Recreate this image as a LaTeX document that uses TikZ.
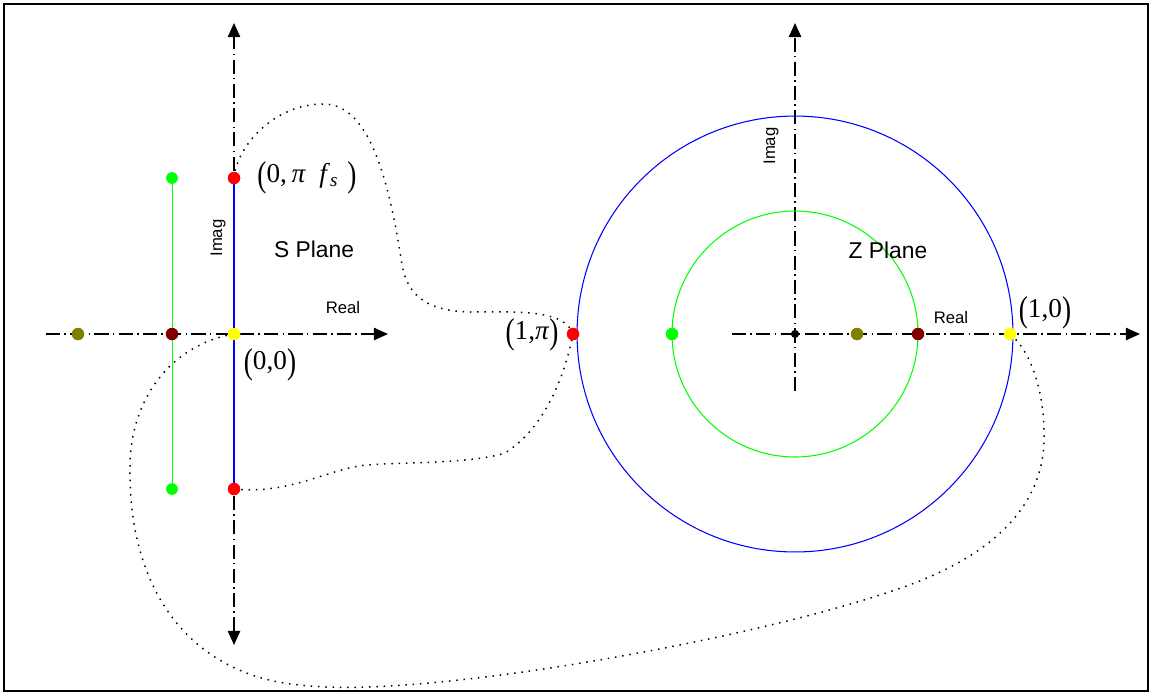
\documentclass[tikz,border=0pt]{standalone}
\usepackage{fontspec}
\setmainfont{Liberation Serif}
\newfontfamily\arialf{Liberation Sans}
\usepackage{graphicx}
\usetikzlibrary{arrows.meta}
\newcommand\tallp[1]{\raisebox{-0.14em}{\scalebox{1}[1.32]{#1}}}
\definecolor{olivec}{RGB}{128,128,0}
\definecolor{maroonc}{RGB}{128,0,0}
\definecolor{greenc}{RGB}{0,255,0}
\definecolor{yellowc}{RGB}{255,255,0}
\definecolor{redc}{RGB}{255,0,0}
\definecolor{bluec}{RGB}{0,0,255}
\begin{document}
\begin{tikzpicture}[x=0.02cm,y=-0.02cm,
  >={Triangle[length=8pt,width=7pt]},
  axis/.style={line width=0.85pt, dash pattern=on 8pt off 2.5pt on 0.8pt off 2.5pt},
  pt/.style={circle, inner sep=0pt, minimum size=7pt, draw=none},
  mapcurve/.style={line width=0.85pt, dash pattern=on 0.85pt off 3.3pt},
  lbl/.style={font=\arialf\fontsize{9.5}{11}\selectfont, inner sep=0pt},
  plane/.style={font=\arialf\fontsize{13}{15}\selectfont, inner sep=0pt},
  coordlbl/.style={font=\fontsize{15.5}{18}\selectfont, inner sep=0pt},
]
\useasboundingbox (0,0) rectangle (1151,694);
\draw[line width=1.2pt] (4,4) rectangle (1148,691);

% axis end points
\coordinate (sN) at (234,23);
\coordinate (sS) at (234,645);
\coordinate (sW) at (46,334);
\coordinate (sE) at (388,334);
\coordinate (zW) at (732,334);
\coordinate (zE) at (1140,334);
\coordinate (zS) at (795,391);
\coordinate (zN) at (795,23);
\coordinate (zc) at (795,334);

% axes
\draw[axis,<->] (sS) -- (sN);
\draw[axis,->] (sW) -- (sE);
\draw[axis,->] (zW) -- (zE);
\draw[axis,->] (zS) -- (zN);

% circles
\draw[bluec, line width=0.6pt] (zc) circle[radius=4.36cm];
\draw[greenc, line width=0.6pt] (zc) circle[radius=2.46cm];

% dots
\node[pt, fill=redc] (sTop) at (234,178) {};
\node[pt, fill=redc] (sBot) at (234,489) {};
\node[pt, fill=yellowc] (sO) at (234,334) {};
\node[pt, fill=maroonc] (sM) at (172,334) {};
\node[pt, fill=olivec] (sOl) at (78,334) {};
\node[pt, fill=greenc, minimum size=6.5pt] (gTop) at (172,178) {};
\node[pt, fill=greenc, minimum size=6.5pt] (gBot) at (172,489) {};
\node[pt, fill=redc] (zPi) at (573,334) {};
\node[pt, fill=greenc] (zG) at (672,334) {};
\node[pt, fill=olivec] (zOl) at (857,334) {};
\node[pt, fill=maroonc] (zM) at (918,334) {};
\node[pt, fill=yellowc] (zOne) at (1010,334) {};
\node[pt, fill=black, minimum size=4.5pt] (zO) at (zc) {};

% segments on the S plane
\draw[bluec, line width=1.1pt] (sTop.center) -- (sBot.center);
\draw[greenc, line width=0.5pt] (gTop.center) -- (gBot.center);

% mapping curves
\draw[mapcurve] (sTop.center) .. controls (237,145) and (275,104) .. (323,104)
  .. controls (360,104) and (385,150) .. (402,265)
  .. controls (408,298) and (430,311) .. (470,312)
  .. controls (530,311) and (565,312) .. (zPi.center);
\draw[mapcurve] (sBot.center) .. controls (290,495) and (330,468) .. (367,465)
  .. controls (400,462) and (470,464) .. (505,453)
  .. controls (545,428) and (565,375) .. (zPi.center);
\draw[mapcurve] (sO.center) .. controls (170,345) and (130,400) .. (130,467)
  .. controls (128,590) and (190,675) .. (300,685)
  .. controls (420,700) and (750,640) .. (895,590)
  .. controls (1000,555) and (1046,500) .. (1044,433)
  .. controls (1044,390) and (1030,350) .. (zOne.center);

% redraw dots on top
\foreach \n/\c in {sTop/redc,sBot/redc,sO/yellowc,sM/maroonc,sOl/olivec,zPi/redc,zG/greenc,zOl/olivec,zM/maroonc,zOne/yellowc}
  \fill[\c] (\n.center) circle[radius=3.5pt];
\fill[greenc] (gTop.center) circle[radius=3.25pt];
\fill[greenc] (gBot.center) circle[radius=3.25pt];
\fill[black] (zO.center) circle[radius=2.25pt];

% labels
\node[coordlbl] (lTop) at (307,178) {\tallp{(}0,\,\textit{π}\,\,\,\textit{f}\textsubscript{\textit{s}}\,\,\tallp{)}};
\node[coordlbl] (lOrig) at (270,365) {\tallp{(}0,0\tallp{)}};
\node[coordlbl] (lPi) at (532,335) {\tallp{(}1,\textit{π}\tallp{)}};
\node[coordlbl] (lOne) at (1045,313) {\tallp{(}1,0\tallp{)}};
\node[plane] (sPlane) at (314,249) {S Plane};
\node[plane] (zPlane) at (888,250) {Z Plane};
\node[lbl] (sReal) at (343,308) {Real};
\node[lbl] (zReal) at (951,318) {Real};
\node[lbl, rotate=90] (sImag) at (218,238) {Imag};
\node[lbl, rotate=90] (zImag) at (771,146) {Imag};
\end{tikzpicture}
\end{document}
